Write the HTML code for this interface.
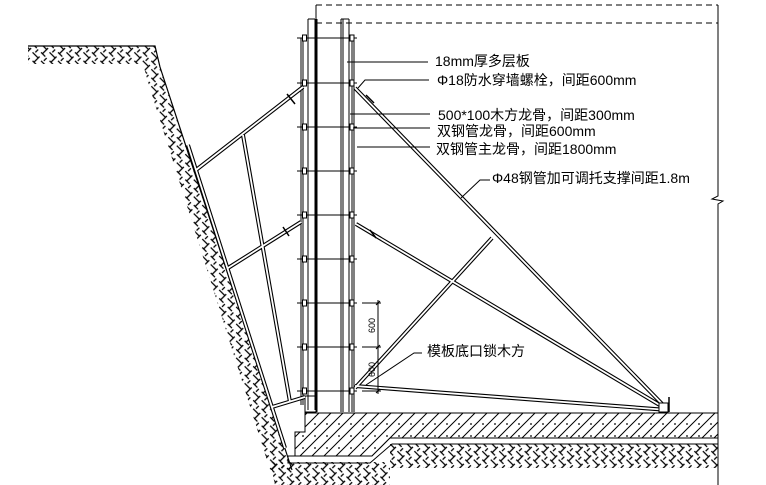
<!DOCTYPE html>
<html><head><meta charset="utf-8"><style>
html,body{margin:0;padding:0;background:#fff;}
svg{display:block;}
text{font-family:"Liberation Sans","Noto Sans CJK SC",sans-serif;font-size:14px;fill:#000;}
</style></head><body>
<svg width="766" height="485" viewBox="0 0 766 485" xmlns="http://www.w3.org/2000/svg">
<defs>
<pattern id="soil" width="12" height="12" patternUnits="userSpaceOnUse" patternTransform="rotate(45)">
<path d="M0 2H8M8 0V8M2 8V12M6 8H12" stroke="#000" stroke-width="1.3" fill="none"/>
</pattern>
<pattern id="conc" width="12" height="12" patternUnits="userSpaceOnUse">
<path d="M-1 13L13 -1M-3 3L3 -3M9 15L15 9" stroke="#000" stroke-width="1"/>
<circle cx="3" cy="4" r="0.9" fill="#000"/>
</pattern>
</defs>

<!-- soil bands -->
<polygon points="28,46 155,46 160,67 292,470 270,470 148,82 143,64 28,64" fill="url(#soil)"/>
<polygon points="270,462 390,462 390,485 275,485" fill="url(#soil)"/>
<polygon points="390,444 718,444 718,468 390,468" fill="url(#soil)"/>
<polyline points="28,46 155,46 160,67 292,470" fill="none" stroke="#000" stroke-width="1.2"/>

<!-- concrete slab -->
<polygon points="295,432 305,432 305,413 718,413 718,438 390,438 372,456 295,456" fill="url(#conc)" stroke="#000" stroke-width="1"/>
<polygon points="305,412 316,412 316,396 305,396" fill="none" stroke="#000"/>
<polyline points="288,456 288,463 370,463 392,444 718,444" fill="none" stroke="#000"/>
<line x1="288" y1="456" x2="372" y2="456" stroke="#000"/>

<!-- dashed outline -->
<path d="M316 5H718M316 23H718" stroke="#000" stroke-dasharray="6,4" fill="none"/>
<line x1="316" y1="5" x2="316" y2="22" stroke="#000"/>
<path d="M718 5V196L712 199L723 201L718 204V485" fill="none" stroke="#000"/>

<!-- walls -->
<g stroke="#000" fill="none">
<line x1="301" y1="38" x2="301" y2="405"/><line x1="303" y1="38" x2="303" y2="405"/>
<line x1="308" y1="19" x2="308" y2="410"/><line x1="315" y1="19" x2="315" y2="410"/>
<line x1="316.5" y1="19" x2="316.5" y2="412" stroke-width="2"/>
<line x1="308" y1="19" x2="315" y2="19"/>
<line x1="341" y1="19" x2="341" y2="412"/><line x1="343" y1="19" x2="343" y2="412"/>
<line x1="349" y1="19" x2="349" y2="412"/><line x1="341" y1="19" x2="349" y2="19"/>
<line x1="352" y1="38" x2="352" y2="412"/><line x1="354" y1="38" x2="354" y2="412"/>
</g>
<g stroke="#000" stroke-width="1">
<path d="M297 38H357M297 83H357M297 127H357M297 171H357M297 215H357M297 259H357M297 303H357M297 347H357M297 391H357"/>
</g>
<g fill="#fff" stroke="#000">
<rect x="302.5" y="35" width="4" height="6"/><rect x="350" y="35" width="4" height="6"/>
<rect x="302.5" y="80" width="4" height="6"/><rect x="350" y="80" width="4" height="6"/>
<rect x="302.5" y="124" width="4" height="6"/><rect x="350" y="124" width="4" height="6"/>
<rect x="302.5" y="168" width="4" height="6"/><rect x="350" y="168" width="4" height="6"/>
<rect x="302.5" y="212" width="4" height="6"/><rect x="350" y="212" width="4" height="6"/>
<rect x="302.5" y="256" width="4" height="6"/><rect x="350" y="256" width="4" height="6"/>
<rect x="302.5" y="300" width="4" height="6"/><rect x="350" y="300" width="4" height="6"/>
<rect x="302.5" y="344" width="4" height="6"/><rect x="350" y="344" width="4" height="6"/>
<rect x="302.5" y="388" width="4" height="6"/><rect x="350" y="388" width="4" height="6"/>
</g>

<!-- pipes (double lines) -->
<g fill="none" stroke-linecap="butt">
<g stroke="#000" stroke-width="4">
<path d="M303 87L196 170M301 222L228 268M243 135L290 402M272 407L305 397M188 145L285 448"/>
<path d="M355 88L668 410M356 224L668 410M492 238L355 388M355 386L668 410"/>
</g>
<g stroke="#fff" stroke-width="1.8">
<path d="M303 87L196 170M301 222L228 268M243 135L290 402M272 407L305 397M188 145L285 448"/>
<path d="M355 88L668 410M356 224L668 410M492 238L355 388M355 386L668 410"/>
</g>
</g>
<g stroke="#000" stroke-width="1.5">
<path d="M287 94L295 104M283 227L289 236M366 95L374 103M370 230L376 238"/>
</g>
<rect x="659" y="403" width="9" height="9" fill="#fff" stroke="#000"/>
<line x1="669" y1="397" x2="669" y2="412" stroke="#000" stroke-width="1.5"/>

<!-- dimension -->
<g stroke="#000" fill="none">
<path d="M362 303H381M362 347H381M362 391H381M378 300V394"/>
<path d="M376 305L380 301M376 349L380 345M376 393L380 389"/>
</g>
<text x="0" y="0" transform="translate(375,333) rotate(-90)" style="font-size:9px">600</text>
<text x="0" y="0" transform="translate(375,377) rotate(-90)" style="font-size:9px">600</text>

<!-- leaders -->
<g stroke="#000" fill="none">
<path d="M347 62H428"/>
<path d="M358 88L365 80H429"/>
<path d="M350 114H430"/>
<path d="M353 128H430"/>
<path d="M357 147H430"/>
<path d="M461 198L480 180H490"/>
<path d="M366 385L414 353H422"/>
</g>
<text x="435" y="66">18mm厚多层板</text>
<text x="437" y="85">Φ18防水穿墙螺栓，间距600mm</text>
<text x="438" y="120">500*100木方龙骨，间距300mm</text>
<text x="437" y="136">双钢管龙骨，间距600mm</text>
<text x="436" y="154">双钢管主龙骨，间距1800mm</text>
<text x="492" y="183">Φ48钢管加可调托支撑间距1.8m</text>
<text x="427" y="356">模板底口锁木方</text>
</svg>
</body></html>
